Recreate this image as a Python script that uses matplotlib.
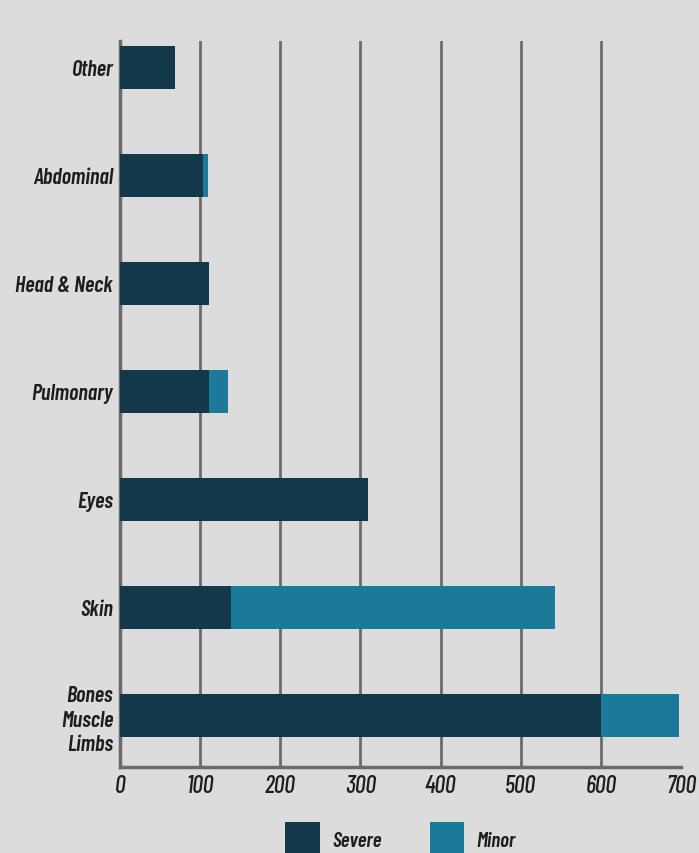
import matplotlib
matplotlib.use('Agg')
import matplotlib.pyplot as plt
import numpy as np

# data
categories = ['Bones\nMuscle\nLimbs', 'Skin', 'Eyes', 'Pulmonary', 'Head & Neck', 'Abdominal', 'Other']
severe = [600, 138, 309, 111, 111, 103, 69]
minor = [97, 405, 0, 24, 0, 7, 0]
xticks = [0, 100, 200, 300, 400, 500, 600, 700]

# condensed italic face, DejaVu condensed as fallback
plt.rcParams['font.family'] = ['Barlow Condensed', 'DejaVu Sans']
plt.rcParams['font.stretch'] = 'condensed'

bg = '#dcdcdd'
dark = '#13384a'
light = '#1b7a99'
grid = '#6b6b6b'
txt = '#1e1e1e'

fig = plt.figure(figsize=(6.99, 8.54), dpi=100, facecolor=bg)
ax = fig.add_axes([0.1717, 0.1007, 0.8026, 0.8501], facecolor=bg)

y = np.arange(len(categories))
ax.barh(y, severe, height=0.4, color=dark, label='Severe', zorder=3)
ax.barh(y, minor, left=severe, height=0.4, color=light, label='Minor', zorder=3)

for v in xticks[1:-1]:
    ax.axvline(v, color=grid, lw=2, zorder=1)

ax.set_xlim(0, 700)
ax.set_ylim(-0.48, 6.245)
ax.set_yticks(y)
ax.set_yticklabels(categories, fontsize=16, style='italic', weight='semibold', color=txt,
                   linespacing=1.3)
ax.set_xticks(xticks)
ax.set_xticklabels([str(t) for t in xticks], fontsize=17.5, style='italic', weight='medium', color=txt)
ax.tick_params(axis='y', length=0, pad=5)
ax.tick_params(axis='x', length=0, pad=5)

for s in ['top', 'right']:
    ax.spines[s].set_visible(False)
for s in ['left', 'bottom']:
    ax.spines[s].set_color(grid)
    ax.spines[s].set_linewidth(2.5)

leg = ax.legend(loc='upper center', bbox_to_anchor=(0.5, -0.076), ncol=2, frameon=False,
                handlelength=1.65, handleheight=2.1, handletextpad=0.6,
                columnspacing=2.3, borderpad=0, borderaxespad=0,
                prop={'family': ['Barlow Condensed', 'DejaVu Sans'], 'style': 'italic',
                      'weight': 'semibold', 'size': 15, 'stretch': 'condensed'})
for t in leg.get_texts():
    t.set_color(txt)

fig.savefig('out.png', dpi=100, facecolor=bg)
